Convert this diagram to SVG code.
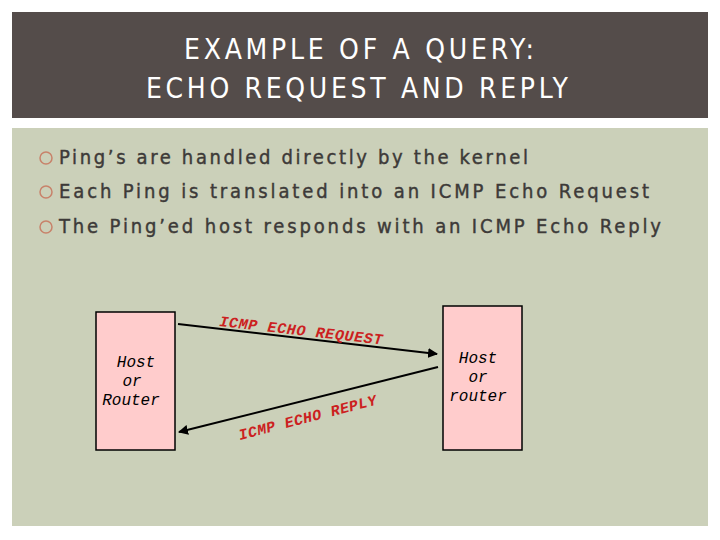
<svg xmlns="http://www.w3.org/2000/svg" width="720" height="540" viewBox="0 0 720 540">
<defs>
<style>
.title{font-family:"DejaVu Sans Condensed","Liberation Sans Narrow",sans-serif;font-stretch:condensed;font-size:28px;fill:#ffffff;text-anchor:middle}
.bul{font-family:"DejaVu Sans Condensed","Liberation Sans Narrow",sans-serif;font-stretch:condensed;font-size:20px;fill:#3d3a38;stroke:#3d3a38;stroke-width:0.4}
.dot{fill:none;stroke:#c8826a;stroke-width:1.5}
.node{fill:#ffcccc;stroke:#000;stroke-width:1.5}
.nl{font-family:"Liberation Mono",monospace;font-style:italic;font-size:16px;fill:#000;text-anchor:middle}
.lab{font-family:"Liberation Mono",monospace;font-style:italic;font-weight:bold;font-size:15px;fill:#cc2020}
.con{stroke:#000;stroke-width:2;fill:none}
</style>
<marker id="ah" viewBox="0 0 10 10" refX="9" refY="5" markerWidth="5" markerHeight="5" orient="auto">
<path d="M0,0 L10,5 L0,10 z" fill="#000"/>
</marker>
</defs>
<rect width="720" height="540" fill="#ffffff"/>
<rect x="12" y="12" width="696" height="106" fill="#544c4a"/>
<text class="title" x="359" y="59" textLength="350" lengthAdjust="spacing">EXAMPLE OF A QUERY:</text>
<text class="title" x="357" y="98" textLength="422" lengthAdjust="spacing">ECHO REQUEST AND REPLY</text>
<rect x="12" y="128" width="696" height="398" fill="#cbd0b9"/>
<circle class="dot" cx="46" cy="158" r="6"/>
<circle class="dot" cx="46" cy="192" r="6"/>
<circle class="dot" cx="46" cy="227" r="6"/>
<text class="bul" x="59" y="164" textLength="469" lengthAdjust="spacing">Ping’s are handled directly by the kernel</text>
<text class="bul" x="59" y="198" textLength="590" lengthAdjust="spacing">Each Ping is translated into an ICMP Echo Request</text>
<text class="bul" x="59" y="233" textLength="602" lengthAdjust="spacing">The Ping’ed host responds with an ICMP Echo Reply</text>
<g id="host-left">
<rect class="node" x="96" y="312" width="79" height="138"/>
<text class="nl" x="136" y="367">Host</text>
<text class="nl" x="132" y="386">or</text>
<text class="nl" x="131" y="405">Router</text>
</g>
<g id="host-right">
<rect class="node" x="443" y="306" width="79" height="144"/>
<text class="nl" x="478" y="363">Host</text>
<text class="nl" x="478" y="382">or</text>
<text class="nl" x="478" y="401">router</text>
</g>
<g id="connectors">
<line class="con" x1="178" y1="324" x2="437" y2="354" marker-end="url(#ah)"/>
<line class="con" x1="438" y1="367" x2="179" y2="432" marker-end="url(#ah)"/>
<text class="lab" transform="translate(219,326) rotate(6.5)" textLength="164" lengthAdjust="spacing">ICMP ECHO REQUEST</text>
<text class="lab" transform="translate(240,440) rotate(-14.5)" textLength="142" lengthAdjust="spacing">ICMP ECHO REPLY</text>
</g>
</svg>
